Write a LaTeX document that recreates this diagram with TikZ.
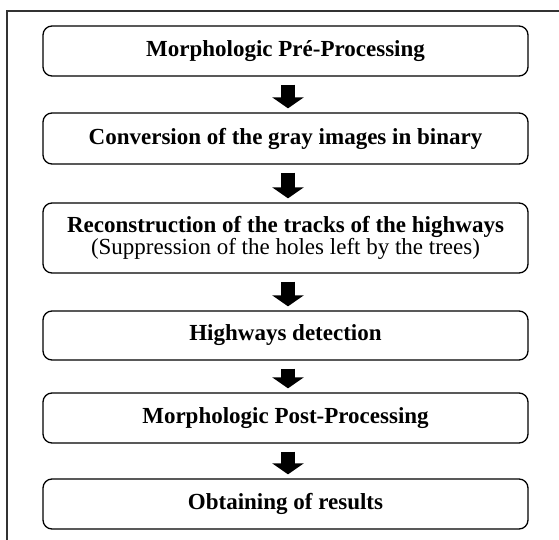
\documentclass[tikz,border=0pt]{standalone}
\usepackage{fontspec}
\setmainfont{Liberation Serif}
\usetikzlibrary{arrows.meta,calc}
\begin{document}
\begin{tikzpicture}[x=1pt,y=-1pt,
  stepbox/.style={draw=black, line width=1.3pt, rounded corners=9pt, minimum width=485pt, align=center, inner sep=0pt, font=\fontsize{23}{19}\selectfont},
  bigarrow/.style={line width=14pt, -{Triangle[width=31pt,length=11pt]}},
  frameline/.style={draw=black!80, line width=1.2pt}]
\useasboundingbox (0,0) rectangle (559,540);
\coordinate (ftr) at (559,11);
\coordinate (ftl) at (7,11);
\coordinate (fbl) at (7,540);
\draw[frameline] (ftr) -- (ftl) -- (fbl);
\node[stepbox, minimum height=50pt] (b1) at (285.5,51) {\textbf{Morphologic Pré-Processing}};
\node[stepbox, minimum height=51pt] (b2) at (285.5,138.5) {\textbf{Conversion of the gray images in binary}};
\node[stepbox, minimum height=70pt] (b3) at (285.5,238) {\textbf{Reconstruction of the tracks of the highways}\\(Suppression of the holes left by the trees)};
\node[stepbox, minimum height=49pt] (b4) at (285.5,335.5) {\textbf{Highways detection}};
\node[stepbox, minimum height=50pt] (b5) at (285.5,418) {\textbf{Morphologic Post-Processing}};
\node[stepbox, minimum height=50pt] (b6) at (285.5,504) {\textbf{Obtaining of results}};
\foreach \a/\b in {b1/b2,b2/b3,b3/b4,b4/b5,b5/b6}{
  \draw[bigarrow] ($(\a.south)+(2.5,8)$) -- ($(\b.north)+(2.5,-4)$);
}
\end{tikzpicture}
\end{document}
